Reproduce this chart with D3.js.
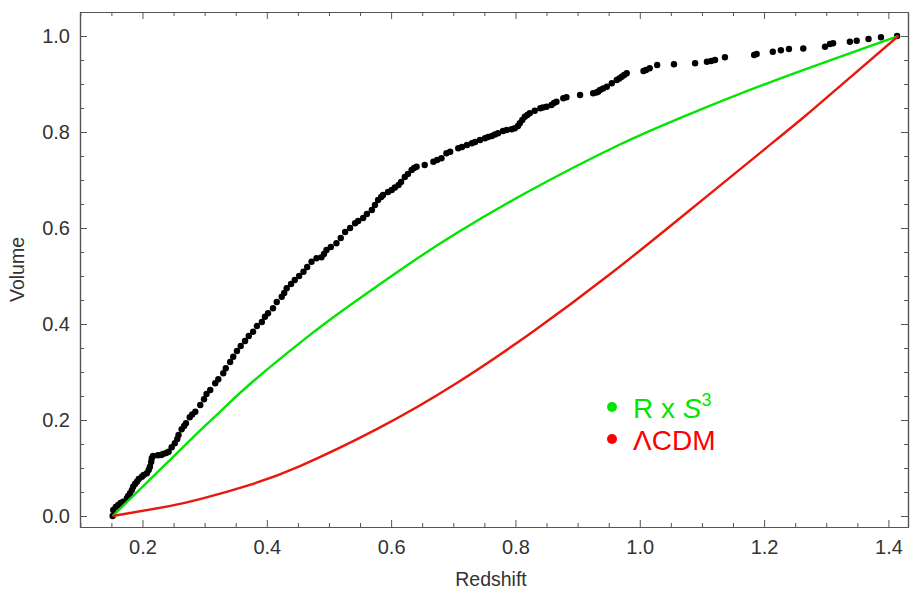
<!DOCTYPE html>
<html>
<head>
<meta charset="utf-8">
<script src="https://cdn.jsdelivr.net/npm/d3@7"></script>
<style>
  html, body { margin: 0; padding: 0; background: #fff; }
  svg { display: block; font-family: "Liberation Sans", Arial, sans-serif; }
</style>
</head>
<body>
<svg id="chart" width="910" height="593"></svg>
<script>
// ---- Data ----
const sampleRedshift = [0.152,0.153,0.157,0.161,0.165,0.169,0.175,0.177,0.180,0.183,0.185,0.188,0.191,0.194,0.199,0.202,0.207,0.210,0.212,0.214,0.215,0.217,0.225,0.230,0.233,0.238,0.242,0.247,0.252,0.256,0.258,0.263,0.267,0.270,0.276,0.280,0.285,0.293,0.299,0.303,0.309,0.317,0.322,0.330,0.334,0.341,0.346,0.352,0.358,0.365,0.371,0.378,0.384,0.392,0.397,0.402,0.410,0.416,0.424,0.428,0.432,0.439,0.445,0.452,0.459,0.465,0.472,0.480,0.488,0.492,0.496,0.503,0.512,0.519,0.526,0.534,0.542,0.547,0.555,0.561,0.569,0.574,0.579,0.584,0.587,0.595,0.601,0.606,0.612,0.616,0.622,0.627,0.633,0.637,0.641,0.654,0.668,0.674,0.681,0.689,0.695,0.708,0.714,0.722,0.730,0.735,0.743,0.751,0.756,0.762,0.767,0.772,0.780,0.786,0.794,0.799,0.804,0.807,0.811,0.815,0.819,0.823,0.831,0.840,0.844,0.850,0.858,0.862,0.866,0.877,0.882,0.904,0.925,0.930,0.933,0.936,0.941,0.947,0.955,0.963,0.967,0.971,0.975,0.979,1.006,1.010,1.016,1.028,1.055,1.089,1.108,1.115,1.121,1.137,1.184,1.188,1.214,1.227,1.240,1.263,1.298,1.306,1.311,1.338,1.349,1.368,1.388,1.414];
const sampleVolume = [0.000,0.0125,0.0188,0.0229,0.0271,0.0298,0.0369,0.0417,0.0473,0.0542,0.0610,0.0667,0.0715,0.0771,0.0819,0.0854,0.0890,0.0958,0.1027,0.1125,0.1202,0.1250,0.1265,0.1271,0.1292,0.1313,0.1340,0.1431,0.1515,0.1604,0.1688,0.1806,0.1875,0.1931,0.2056,0.2115,0.2173,0.2313,0.2431,0.2542,0.2625,0.2765,0.2848,0.2973,0.3077,0.3208,0.3319,0.3438,0.3542,0.3646,0.3750,0.3840,0.3958,0.4042,0.4152,0.4223,0.4327,0.4458,0.4569,0.4646,0.4744,0.4833,0.4917,0.5000,0.5090,0.5188,0.5298,0.5369,0.5390,0.5458,0.5542,0.5604,0.5681,0.5792,0.5917,0.6000,0.6098,0.6146,0.6208,0.6292,0.6375,0.6479,0.6583,0.6646,0.6688,0.6750,0.6792,0.6844,0.6896,0.6958,0.7063,0.7125,0.7208,0.7250,0.7277,0.7313,0.7381,0.7417,0.7452,0.7556,0.7590,0.7660,0.7688,0.7729,0.7765,0.7792,0.7833,0.7869,0.7896,0.7917,0.7948,0.7973,0.8021,0.8042,0.8056,0.8077,0.8125,0.8181,0.8250,0.8319,0.8354,0.8390,0.8444,0.8494,0.8510,0.8527,0.8563,0.8604,0.8631,0.8702,0.8723,0.8771,0.8806,0.8823,0.8840,0.8875,0.8906,0.8944,0.9015,0.9083,0.9115,0.9152,0.9188,0.9223,0.9271,0.9292,0.9327,0.9396,0.9410,0.9431,0.9465,0.9479,0.9500,0.9556,0.9604,0.9625,0.9673,0.9702,0.9729,0.9740,0.9777,0.9833,0.9848,0.9881,0.9902,0.9938,0.9973,1.000];

const rs3Redshift = [0.152,0.239,0.2925,0.3247,0.373,0.4614,0.5338,0.630,0.7037,0.8207,0.968,1.070,1.204,1.416];
const rs3Volume   = [0.000,0.110,0.178,0.217,0.275,0.369,0.439,0.526,0.588,0.676,0.774,0.832,0.901,1.000];

const lcdmRedshift = [0.152,0.239,0.2925,0.373,0.4534,0.5785,0.7037,0.829,0.954,1.0794,1.2045,1.2685,1.3297,1.416];
const lcdmVolume   = [0.000,0.0195,0.035,0.065,0.104,0.182,0.2755,0.385,0.5056,0.636,0.768,0.836,0.904,1.000];

const xTickValues = [0.2,0.4,0.6,0.8,1.0,1.2,1.4];
const xTickLabels = ["0.2","0.4","0.6","0.8","1.0","1.2","1.4"];
const yTickValues = [0.0,0.2,0.4,0.6,0.8,1.0];
const yTickLabels = ["0.0","0.2","0.4","0.6","0.8","1.0"];
const legendLabels = ["R x S3", "\u039BCDM"];

// ---- Layout ----
const svg = d3.select("#chart");
const L = 80, R = 908, T = 12, B = 527;
const x = d3.scaleLinear().domain([0.0995, 1.4315]).range([L, R]);
const y = d3.scaleLinear().domain([-0.0229, 1.05]).range([B, T]);

const frameColor = "#555";
const labelColor = "#333";

const xMinor = d3.range(0.1, 1.42, 0.05).map(v => +v.toFixed(2)).filter(v => Math.abs(v*5 - Math.round(v*5)) > 1e-6);
const yMinor = d3.range(0.05, 1.0, 0.05).map(v => +v.toFixed(2)).filter(v => Math.abs(v*5 - Math.round(v*5)) > 1e-6);

function styleAxis(g) {
  g.selectAll("path.domain").attr("stroke", frameColor).attr("stroke-width", 1.2);
  g.selectAll(".tick line").attr("stroke", frameColor).attr("stroke-width", 1);
  g.selectAll(".tick text").attr("fill", labelColor).style("font-size", "20px").style("font-family", "Liberation Sans, Arial, sans-serif");
}

// bottom
const gB = svg.append("g").attr("transform", `translate(0,${B})`)
  .call(d3.axisBottom(x).tickValues(xTickValues).tickFormat((d,i) => xTickLabels[i]).tickSizeInner(-7).tickSizeOuter(0).tickPadding(13));
styleAxis(gB);
const gBm = svg.append("g").attr("transform", `translate(0,${B})`)
  .call(d3.axisBottom(x).tickValues(xMinor).tickFormat("").tickSizeInner(-4).tickSizeOuter(0));
styleAxis(gBm);
// top
const gT = svg.append("g").attr("transform", `translate(0,${T})`)
  .call(d3.axisTop(x).tickValues(xTickValues).tickFormat("").tickSizeInner(-7).tickSizeOuter(0));
styleAxis(gT);
const gTm = svg.append("g").attr("transform", `translate(0,${T})`)
  .call(d3.axisTop(x).tickValues(xMinor).tickFormat("").tickSizeInner(-4).tickSizeOuter(0));
styleAxis(gTm);
// left
const gL = svg.append("g").attr("transform", `translate(${L},0)`)
  .call(d3.axisLeft(y).tickValues(yTickValues).tickFormat((d,i) => yTickLabels[i]).tickSizeInner(-7).tickSizeOuter(0).tickPadding(10));
styleAxis(gL);
const gLm = svg.append("g").attr("transform", `translate(${L},0)`)
  .call(d3.axisLeft(y).tickValues(yMinor).tickFormat("").tickSizeInner(-4).tickSizeOuter(0));
styleAxis(gLm);
// right
const gR = svg.append("g").attr("transform", `translate(${R},0)`)
  .call(d3.axisRight(y).tickValues(yTickValues).tickFormat("").tickSizeInner(-7).tickSizeOuter(0));
styleAxis(gR);
const gRm = svg.append("g").attr("transform", `translate(${R},0)`)
  .call(d3.axisRight(y).tickValues(yMinor).tickFormat("").tickSizeInner(-4).tickSizeOuter(0));
styleAxis(gRm);

// axis titles
svg.append("text").attr("x", (L + R) / 2 - 3).attr("y", 586).attr("text-anchor", "middle")
  .attr("fill", labelColor).style("font-size", "19.5px").text("Redshift");
svg.append("text").attr("transform", `translate(24,${(T + B) / 2}) rotate(-90)`).attr("text-anchor", "middle")
  .attr("fill", labelColor).style("font-size", "19.5px").text("Volume");

// ---- Marks ----
const samples = sampleRedshift.map((z, i) => ({ z, v: sampleVolume[i] }));
svg.append("g").selectAll("circle").data(samples).join("circle")
  .attr("cx", d => x(d.z)).attr("cy", d => y(d.v)).attr("r", 3.2).attr("fill", "#000");

const line = d3.line().x(d => x(d.z)).y(d => y(d.v)).curve(d3.curveNatural);
const rs3 = rs3Redshift.map((z, i) => ({ z, v: rs3Volume[i] }));
const lcdm = lcdmRedshift.map((z, i) => ({ z, v: lcdmVolume[i] }));
svg.append("path").datum(rs3).attr("d", line).attr("fill", "none").attr("stroke", "#00e600").attr("stroke-width", 2.4);
svg.append("path").datum(lcdm).attr("d", line).attr("fill", "none").attr("stroke", "#e8180c").attr("stroke-width", 2.4);

// ---- Legend ----
const legendColors = ["#00e600", "#ff0000"];
const lg = svg.append("g");
legendLabels.forEach((lab, i) => {
  const cy = 407 + i * 32;
  lg.append("circle").attr("cx", 612).attr("cy", cy).attr("r", 5).attr("fill", legendColors[i]);
  const t = lg.append("text").attr("x", 633).attr("y", cy + 11).attr("fill", legendColors[i]).style("font-size", "28px");
  if (i === 0) {
    t.append("tspan").text("R x ");
    t.append("tspan").style("font-style", "italic").text("S");
    t.append("tspan").attr("dy", -12).style("font-size", "18px").text("3");
  } else {
    t.text(lab);
  }
});
</script>
</body>
</html>
